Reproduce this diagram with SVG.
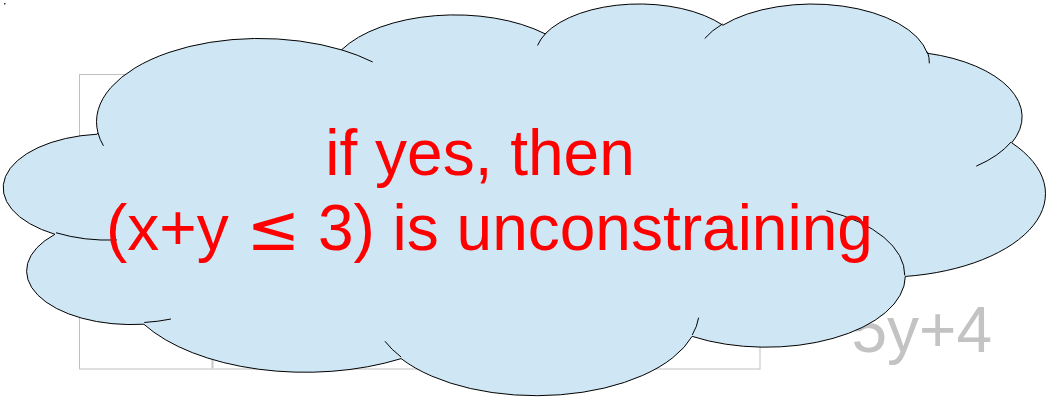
<svg xmlns="http://www.w3.org/2000/svg" width="1046" height="397" viewBox="0 0 1046 397">
  <style>
    .grid { fill: none; stroke: #c0c0c0; stroke-width: 1; }
    .divider { fill: none; stroke: #c8c8c8; stroke-width: 2; }
    .faint { font-family: "Liberation Sans", Arial, sans-serif; font-size: 64px; fill: #c3c3c3; }
    .cloud { fill: #cfe6f4; stroke: #000000; stroke-width: 1; stroke-linejoin: round; }
    .cloud-seams { fill: none; stroke: #000000; stroke-width: 1; stroke-linecap: butt; }
    .callout { font-family: "Liberation Sans", Arial, sans-serif; font-size: 64px; fill: #ff0000; }
    .sym { font-family: "DejaVu Sans", sans-serif; }
  </style>

  <!-- tiny marker dot in the corner -->
  <rect x="4" y="3" width="1.5" height="1.5" fill="#333333"/>

  <!-- table lying underneath the callout -->
  <g id="table">
    <rect class="grid" x="79.5" y="74.5" width="680.5" height="294.5"/>
    <line class="divider" x1="212.5" y1="74.5" x2="212.5" y2="368.5"/>
    <text class="faint" x="992" y="352" text-anchor="end">5y+4</text>
  </g>

  <!-- cloud callout -->
  <g id="cloud">
    <path class="cloud" d="M98.0,132.95
      A162.73,83.30 0 0 1 341.50,49.86
      A128.51,65.87 0 0 1 545.13,33.82
      A105.18,53.89 0 0 1 722.90,25.19
      A117.04,59.78 0 0 1 927.37,53.24
      A128.51,65.92 0 0 1 1011.72,142.83
      A163.26,83.57 0 0 1 905.34,276.45
      A139.40,71.31 0 0 1 692.12,336.36
      A162.70,83.52 0 0 1 401.16,358.61
      A186.03,95.56 0 0 1 143.89,324.22
      A105.06,53.64 0 0 1 54.93,234.29
      A104.70,53.89 0 0 1 97.12,134.19 Z"/>
    <path class="cloud-seams" d="
      M117.09,239.97 A104.70,53.89 0 0 1 56.03,232.74
      M170.94,319.03 A105.06,53.64 0 0 1 144.24,322.48
      M401.07,357.01 A162.70,83.52 0 0 1 384.93,341.20
      M698.64,317.68 A162.70,83.52 0 0 1 692.22,334.98
      M826.41,210.75 A139.40,71.31 0 0 1 904.75,275.43
      M1011.21,141.87 A128.51,65.92 0 0 1 976.30,166.13
      M927.49,51.88 A117.04,59.78 0 0 1 929.33,63.33
      M704.69,38.52 A117.04,59.78 0 0 1 722.59,23.89
      M537.53,45.48 A105.18,53.89 0 0 1 546.18,32.89
      M341.36,49.76 A162.73,83.30 0 0 1 372.66,61.97
      M103.45,145.81 A162.73,83.30 0 0 1 97.99,132.96"/>
    <text class="callout" x="480" y="175" text-anchor="middle">if yes, then</text>
    <text class="callout" x="106" y="250">(x+y <tspan class="sym">≤</tspan> 3) is unconstraining</text>
  </g>
</svg>
